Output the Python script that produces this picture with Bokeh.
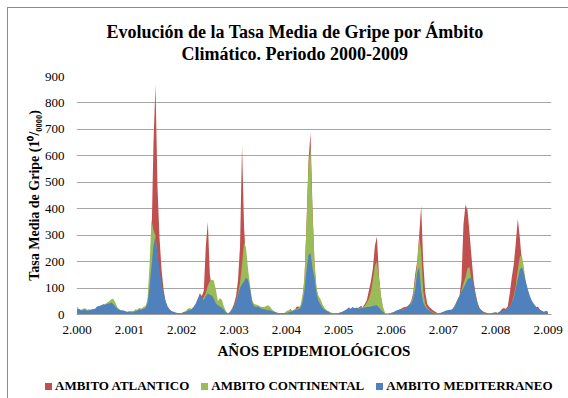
import numpy as np
from bokeh.plotting import figure
from bokeh.layouts import column
from bokeh.models import Range1d, FixedTicker, Title, Div
from bokeh.embed import file_html
from bokeh.resources import INLINE

# ---- data (fortnightly mean flu rate per 100,000) ----
atlantico = [
    # 2000
    15, 15, 12, 14, 15, 12, 14, 15, 16, 18, 25, 30, 32, 40, 35, 33, 35, 38, 42, 35, 25, 18, 14, 12, 10, 8,
    # 2001
    10, 8, 10, 12, 14, 18, 16, 20, 25, 45, 120, 280, 650, 869, 480, 290, 170, 95, 50, 28, 18, 12, 8, 6, 5, 5,
    # 2002
    6, 8, 10, 14, 16, 20, 26, 38, 55, 80, 70, 90, 260, 350, 150, 100, 80, 60, 45, 40, 30, 22, 10, 4, 10, 22,
    # 2003
    40, 70, 130, 260, 639, 330, 200, 130, 80, 50, 30, 25, 25, 22, 18, 18, 15, 14, 12, 10, 8, 6, 5, 5, 5, 5,
    # 2004
    8, 10, 22, 12, 15, 28, 30, 25, 60, 130, 340, 580, 686, 400, 190, 95, 60, 50, 32, 20, 14, 10, 6, 5, 4, 5,
    # 2005
    6, 8, 10, 14, 18, 22, 20, 25, 22, 24, 26, 32, 28, 40, 55, 90, 125, 175, 260, 295, 150, 65, 25, 5, 3, 4,
    # 2006
    6, 8, 10, 14, 18, 22, 26, 28, 30, 38, 50, 80, 150, 200, 300, 412, 200, 85, 40, 28, 22, 15, 10, 6, 5, 6,
    # 2007
    8, 10, 12, 14, 16, 25, 40, 55, 70, 130, 340, 415, 395, 310, 218, 130, 80, 45, 25, 16, 10, 8, 5, 4, 5, 6,
    # 2008
    8, 6, 10, 20, 25, 22, 30, 80, 140, 190, 270, 362, 290, 200, 120, 85, 60, 45, 35, 30, 25, 30, 18, 12, 8, 12, 8,
]
continental = [
    30, 20, 18, 22, 24, 18, 20, 18, 22, 20, 28, 30, 33, 34, 40, 45, 50, 58, 60, 45, 28, 20, 15, 12, 10, 8,
    10, 14, 12, 20, 18, 25, 22, 28, 32, 55, 180, 358, 320, 300, 220, 140, 90, 55, 32, 22, 15, 10, 8, 6, 5, 5,
    6, 10, 12, 22, 25, 22, 30, 42, 58, 70, 55, 65, 80, 110, 125, 132, 128, 95, 50, 62, 55, 30, 12, 5, 8, 20,
    28, 50, 80, 120, 190, 274, 250, 170, 110, 55, 40, 38, 35, 30, 28, 28, 32, 35, 28, 18, 12, 8, 6, 5, 5, 6,
    12, 16, 18, 15, 20, 22, 24, 35, 70, 140, 330, 560, 635, 390, 200, 100, 70, 58, 38, 25, 16, 12, 8, 6, 5, 6,
    6, 8, 10, 14, 18, 22, 20, 25, 22, 24, 24, 26, 28, 32, 45, 60, 85, 130, 185, 200, 140, 75, 30, 5, 3, 4,
    6, 8, 10, 14, 16, 18, 20, 22, 26, 36, 45, 70, 130, 190, 295, 240, 90, 42, 25, 18, 12, 8, 6, 5, 5, 6,
    8, 10, 12, 14, 16, 25, 38, 50, 65, 92, 117, 140, 175, 180, 130, 100, 70, 42, 20, 12, 8, 6, 5, 5, 5, 6,
    8, 6, 8, 12, 14, 18, 22, 30, 45, 70, 110, 170, 218, 224, 180, 110, 65, 42, 30, 22, 16, 12, 10, 8, 6, 10, 8,
]
mediterraneo = [
    18, 22, 15, 16, 20, 14, 16, 18, 20, 22, 30, 32, 35, 36, 38, 40, 42, 45, 40, 30, 22, 18, 15, 16, 12, 10,
    12, 8, 10, 12, 15, 20, 18, 22, 25, 40, 100, 180, 260, 299, 225, 175, 115, 80, 50, 30, 20, 12, 10, 8, 6, 5,
    6, 8, 10, 14, 16, 20, 28, 40, 60, 75, 65, 55, 70, 80, 75, 72, 60, 42, 35, 30, 25, 18, 8, 3, 8, 18,
    30, 50, 75, 100, 115, 125, 140, 130, 95, 45, 30, 28, 30, 25, 22, 20, 18, 16, 15, 12, 10, 8, 6, 5, 6, 5,
    6, 8, 10, 12, 16, 18, 20, 25, 45, 90, 165, 225, 232, 175, 140, 80, 50, 38, 25, 18, 14, 10, 6, 5, 4, 5,
    6, 8, 10, 15, 20, 26, 22, 28, 24, 26, 22, 24, 25, 26, 28, 28, 30, 32, 34, 35, 26, 18, 10, 3, 2, 4,
    6, 8, 12, 16, 18, 20, 18, 22, 28, 35, 40, 60, 95, 160, 180, 92, 45, 30, 20, 15, 10, 6, 5, 4, 5, 8,
    10, 14, 16, 18, 18, 24, 35, 55, 70, 86, 100, 115, 132, 138, 140, 120, 73, 41, 23, 14, 8, 6, 5, 4, 5, 8,
    8, 6, 10, 14, 16, 20, 25, 32, 45, 62, 100, 135, 170, 178, 160, 125, 95, 70, 52, 40, 30, 24, 18, 14, 10, 14, 10,
]
anios = [2000, 2001, 2002, 2003, 2004, 2005, 2006, 2007, 2008, 2009]
etiquetas_x = ["2.000", "2.001", "2.002", "2.003", "2.004", "2.005", "2.006", "2.007", "2.008", "2.009"]
valores_y = [0, 100, 200, 300, 400, 500, 600, 700, 800, 900]
series = ["AMBITO ATLANTICO", "AMBITO CONTINENTAL", "AMBITO MEDITERRANEO"]
colores = ["#C0504D", "#9BBB59", "#4F81BD"]
titulo = ["Evolución de la Tasa Media de Gripe por Ámbito", "Climático. Periodo 2000-2009"]
titulo_x = "AÑOS EPIDEMIOLÓGICOS"
titulo_y = "Tasa Media de Gripe (1⁰/₀₀₀₀)"

PERIODOS_POR_ANIO = 26
semanas = anios[0] + np.arange(len(atlantico)) / PERIODOS_POR_ANIO

# ---- layout ----
W = 568
H_MAIN, H_LEG = 375, 23
B_LEFT, B_RIGHT, B_TOP = 76, 17, 76
B_BOTTOM = H_MAIN - 314
FRAME_W = W - B_LEFT - B_RIGHT
PPY = 471.0 / 9.0                     # pixels per year
x_start = 2000 - 0.5 / PPY
x_end = x_start + FRAME_W / PPY
SERIF = "Liberation Serif"
GRIS = "#8c8c8c"

p = figure(width=W, height=H_MAIN, output_backend="svg", toolbar_location=None,
           x_range=Range1d(x_start, x_end), y_range=Range1d(0, 900),
           min_border_left=B_LEFT, min_border_right=B_RIGHT,
           min_border_top=B_TOP, min_border_bottom=B_BOTTOM,
           background_fill_color="white", border_fill_color=None,
           outline_line_color=None,
           styles={"box-shadow": f"inset 7px 7px 0 0 #ffffff, inset 8px 8px 0 0 {GRIS}",
                   "background-color": "#ffffff"})

for vals, col in zip([atlantico, continental, mediterraneo], colores):
    p.varea(x=semanas, y1=0, y2=vals, fill_color=col, fill_alpha=1.0)

# axes
p.xaxis.ticker = FixedTicker(ticks=anios)
p.xaxis.major_label_overrides = {a: t for a, t in zip(anios, etiquetas_x)}
p.yaxis.ticker = FixedTicker(ticks=valores_y)
for ax in (p.xaxis, p.yaxis):
    ax.major_tick_line_color = None
    ax.minor_tick_line_color = None
    ax.major_tick_out = 0
    ax.major_tick_in = 0
    ax.major_label_text_font = SERIF
    ax.major_label_text_font_size = "13px"
    ax.major_label_text_color = "black"
    ax.axis_label_text_font = SERIF
    ax.axis_label_text_font_style = "bold"
    ax.axis_label_text_color = "black"
p.xaxis.axis_line_color = "#a0a0a0"
p.yaxis.axis_line_color = None
p.xaxis.major_label_standoff = 11
p.yaxis.major_label_standoff = 12
p.xaxis.axis_label = titulo_x
p.xaxis.axis_label_text_font_size = "15px"
p.xaxis.axis_label_standoff = 6
p.yaxis.axis_label = titulo_y
p.yaxis.axis_label_text_font_size = "14px"
p.yaxis.axis_label_standoff = 0
p.xgrid.grid_line_color = None
p.ygrid.grid_line_color = "#a6a6a6"
p.ygrid.grid_line_width = 1

# title: spacer next to the frame, then line 2, then line 1 (outermost)
p.add_layout(Title(text=" ", text_font_size="10px", standoff=0), "above")
p.add_layout(Title(text=titulo[1], align="left", offset=105, standoff=0,
                   text_font=SERIF, text_font_style="bold", text_font_size="18px",
                   text_color="black"), "above")
p.add_layout(Title(text=titulo[0], align="left", offset=30, standoff=0,
                   text_font=SERIF, text_font_style="bold", text_font_size="18px",
                   text_color="black"), "above")

# ---- legend strip under the axis title ----
item_html = "".join(
    f'<span style="display:inline-block;width:7px;height:7px;background:{c};'
    f'margin-right:3px;vertical-align:middle;position:relative;top:-1px"></span>'
    f'<span style="margin-right:12px">{s}</span>'
    for s, c in zip(series, colores))
legend_html = (f'<div style="font-family:\'{SERIF}\';font-weight:bold;font-size:13px;'
               f'line-height:14px;padding:4px 0 0 45px;white-space:nowrap;color:#000;margin:0">'
               f'{item_html}</div>')
leyenda = Div(text=legend_html, width=W, height=H_LEG, margin=0,
              styles={"box-shadow": f"inset 7px 0 0 0 #ffffff, inset 8px 0 0 0 {GRIS}",
                      "background-color": "#ffffff"})

open("out.html", "w").write(file_html(column(p, leyenda, spacing=0), INLINE))
